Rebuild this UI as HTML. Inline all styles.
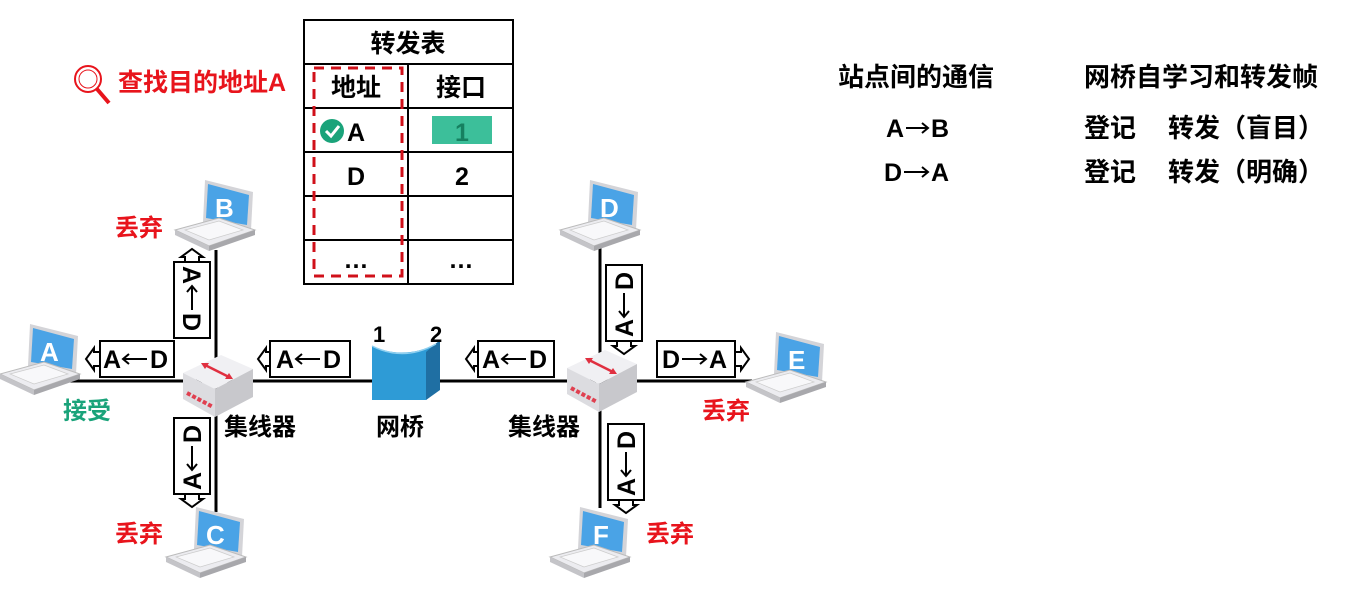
<!DOCTYPE html>
<html><head><meta charset="utf-8"><style>
body{margin:0;background:#fff;width:1359px;height:595px;overflow:hidden}
svg text{font-family:"Liberation Sans","Noto Sans CJK SC",sans-serif;font-weight:bold}
</style></head><body>
<svg width="1359" height="595" viewBox="0 0 1359 595" xmlns="http://www.w3.org/2000/svg">
<defs>
<g id="lap">
  <polygon points="30,0 78,12 76,50 28,42" fill="#d4d4d8"/>
  <polygon points="33,4 74,15 72,45 31,38" fill="#4aa3e6"/>
  <polygon points="0,50 44,38 80,50 34,66" fill="#ececf0" stroke="#bbb" stroke-width="1"/>
  <polygon points="10,50 44,41 68,50 34,60" fill="#f8f8fa" stroke="#ccc" stroke-width="0.7"/>
  <polygon points="0,50 34,66 34,71 0,55" fill="#c4c4c8"/>
  <polygon points="34,66 80,50 80,55 34,71" fill="#a8a8ac"/>
</g>
<g id="hub">
  <polygon points="0,18 38,0 70,14 32,34" fill="#f0f0f3"/>
  <polygon points="0,18 32,34 32,62 0,44" fill="#dcdce0"/>
  <polygon points="32,34 70,14 70,42 32,62" fill="#c8c8cc"/>
  <line x1="22" y1="10" x2="46" y2="22" stroke="#e03040" stroke-width="2.5"/>
  <polygon points="18,8 26,8 22,14" fill="#e03040"/>
  <polygon points="50,24 42,24 46,18" fill="#e03040"/>
  <line x1="4" y1="38" x2="30" y2="52" stroke="#e04050" stroke-width="4" stroke-dasharray="4,2"/>
</g>
<g id="lbl">
  <text x="-34" y="9" font-size="25" fill="#000">A</text>
  <line x1="-14" y1="0" x2="10" y2="0" stroke="#000" stroke-width="2"/>
  <polyline points="-8,-5 -14,0 -8,5" fill="none" stroke="#000" stroke-width="2"/>
  <text x="13" y="9" font-size="25" fill="#000">D</text>
</g>
<g id="lblR">
  <text x="-34" y="9" font-size="25" fill="#000">D</text>
  <line x1="-14" y1="0" x2="10" y2="0" stroke="#000" stroke-width="2"/>
  <polyline points="4,-5 10,0 4,5" fill="none" stroke="#000" stroke-width="2"/>
  <text x="13" y="9" font-size="25" fill="#000">A</text>
</g>
<g id="arrB">
  <text x="-30" y="9" font-size="25" fill="#000">A</text>
  <line x1="-10" y1="0" x2="12" y2="0" stroke="#000" stroke-width="2"/>
  <polyline points="6,-5 12,0 6,5" fill="none" stroke="#000" stroke-width="2"/>
  <text x="15" y="9" font-size="25" fill="#000">B</text>
</g>
</defs>

<line x1="70" y1="381" x2="752" y2="381" stroke="#000" stroke-width="3"/>
<line x1="216" y1="250" x2="216" y2="512" stroke="#000" stroke-width="3"/>
<line x1="600" y1="248" x2="600" y2="508" stroke="#000" stroke-width="3"/>

<g transform="translate(0,324)"><use href="#lap"/><text x="40" y="37" fill="#fff" font-size="26">A</text></g>
<g transform="translate(175,180)"><use href="#lap"/><text x="40" y="37" fill="#fff" font-size="26">B</text></g>
<g transform="translate(166,507)"><use href="#lap"/><text x="40" y="37" fill="#fff" font-size="26">C</text></g>
<g transform="translate(560,180)"><use href="#lap"/><text x="40" y="37" fill="#fff" font-size="26">D</text></g>
<g transform="translate(746,332)"><use href="#lap"/><text x="42" y="37" fill="#fff" font-size="26">E</text></g>
<g transform="translate(550,507)"><use href="#lap"/><text x="43" y="37" fill="#fff" font-size="26">F</text></g>

<g transform="translate(183,355)"><use href="#hub"/></g>
<g transform="translate(567,350)"><use href="#hub"/></g>

<path d="M372,346 Q404,360 436,344 L436,392 L426,400 L372,400 Z" fill="#2e9bd6"/>
<path d="M426,352 L440,340 L440,390 L426,400 Z" fill="#1f6fa3"/>
<path d="M372,346 Q404,362 436,344" fill="none" stroke="#8fd0f0" stroke-width="1.5"/>
<text x="373" y="342" font-size="22">1</text>
<text x="430" y="342" font-size="22">2</text>

<g fill="#fff" stroke="#000" stroke-width="2">
<rect x="100" y="341" width="74" height="36"/><polygon points="100,352 94,352 94,348 86,359 94,370 94,366 100,366"/>
<rect x="270" y="341" width="80" height="36"/><polygon points="270,352 266,352 266,348 258,359 266,370 266,366 270,366"/>
<rect x="478" y="341" width="76" height="36"/><polygon points="478,352 474,352 474,348 466,359 474,370 474,366 478,366"/>
<rect x="657" y="341" width="78" height="36"/><polygon points="735,352 741,352 741,348 749,359 741,370 741,366 735,366"/>
<rect x="174" y="262" width="36" height="76"/><polygon points="185,262 185,257 181,257 192,249 203,257 199,257 199,262"/>
<rect x="174" y="418" width="36" height="76"/><polygon points="185,494 185,499 181,499 192,507 203,499 199,499 199,494"/>
<rect x="606" y="265" width="36" height="76"/><polygon points="617,341 617,346 613,346 624,354 635,346 631,346 631,341"/>
<rect x="608" y="424" width="36" height="76"/><polygon points="619,500 619,505 615,505 626,513 637,505 633,505 633,500"/>
</g>
<use href="#lbl" transform="translate(137,359)"/>
<use href="#lbl" transform="translate(310,359)"/>
<use href="#lbl" transform="translate(516,359)"/>
<use href="#lblR" transform="translate(696,359)"/>
<use href="#lbl" transform="translate(192,300) rotate(90)"/>
<use href="#lbl" transform="translate(192,456) rotate(-90)"/>
<use href="#lbl" transform="translate(624,303) rotate(-90)"/>
<use href="#lbl" transform="translate(626,462) rotate(-90)"/>

<g font-size="24">
<text x="115" y="236" fill="#e8141c">丢弃</text>
<text x="115" y="542" fill="#e8141c">丢弃</text>
<text x="646" y="542" fill="#e8141c">丢弃</text>
<text x="702" y="419" fill="#e8141c">丢弃</text>
<text x="63" y="419" fill="#1aa37a">接受</text>
<text x="224" y="435" fill="#000">集线器</text>
<text x="376" y="435" fill="#000">网桥</text>
<text x="508" y="435" fill="#000">集线器</text>
</g>

<circle cx="88" cy="79" r="13" fill="none" stroke="#e8141c" stroke-width="2"/>
<circle cx="88" cy="79" r="9" fill="none" stroke="#e8141c" stroke-width="1"/>
<line x1="97" y1="89" x2="109" y2="103" stroke="#e8141c" stroke-width="4"/>
<text x="118" y="91" font-size="25" fill="#e8141c">查找目的地址A</text>

<g stroke="#000" stroke-width="2" fill="none">
<rect x="304" y="20" width="209" height="264"/>
<line x1="304" y1="64" x2="513" y2="64"/>
<line x1="304" y1="108" x2="513" y2="108"/>
<line x1="304" y1="152" x2="513" y2="152"/>
<line x1="304" y1="196" x2="513" y2="196"/>
<line x1="304" y1="240" x2="513" y2="240"/>
<line x1="408" y1="64" x2="408" y2="284"/>
</g>
<rect x="314" y="68" width="88" height="208" fill="none" stroke="#d0101a" stroke-width="3" stroke-dasharray="10,7"/>
<rect x="432" y="116" width="60" height="28" fill="#3cbf9a"/>
<circle cx="332" cy="131" r="12" fill="#1aa37a"/>
<polyline points="326,131 331,136 339,126" fill="none" stroke="#fff" stroke-width="3"/>
<g font-size="25" text-anchor="middle" fill="#000">
<text x="408" y="52">转发表</text>
<text x="356" y="96">地址</text>
<text x="461" y="96">接口</text>
<text x="356" y="141">A</text>
<text x="462" y="141" fill="#168060">1</text>
<text x="356" y="185">D</text>
<text x="462" y="185">2</text>
<text x="356" y="268">…</text>
<text x="461" y="268">…</text>
</g>

<g font-size="26" fill="#000">
<text x="916" y="86" text-anchor="middle">站点间的通信</text>
<text x="1084" y="86">网桥自学习和转发帧</text>
<text x="1084" y="137">登记</text>
<text x="1168" y="137">转发（盲目）</text>
<text x="1084" y="181">登记</text>
<text x="1168" y="181">转发（明确）</text>
</g>
<use href="#arrB" transform="translate(916,128)"/>
<use href="#lblR" transform="translate(918,172)"/>
</svg>
</body></html>
